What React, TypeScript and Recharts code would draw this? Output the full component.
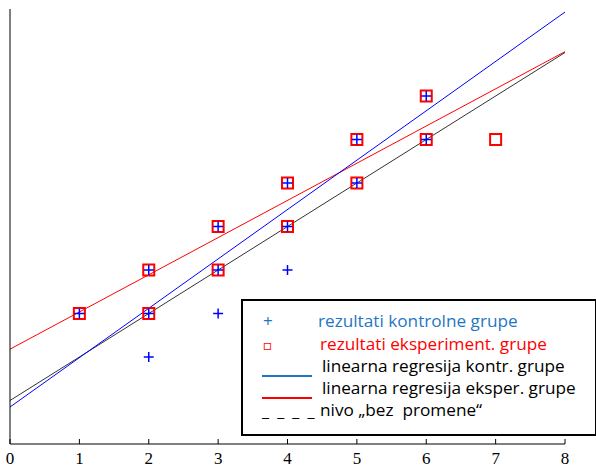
import {
  ComposedChart,
  Scatter,
  Line,
  XAxis,
  YAxis,
} from 'recharts';

// rezultati kontrolne grupe (+)
const controlX = [1, 2, 2, 2, 3, 3, 3, 4, 4, 4, 5, 5, 6, 6];
const controlY = [3, 2, 3, 4, 3, 4, 5, 4, 5, 6, 6, 7, 7, 8];

// rezultati eksperiment. grupe (square)
const expX = [1, 2, 2, 3, 3, 4, 4, 5, 5, 6, 6, 7];
const expY = [3, 3, 4, 4, 5, 5, 6, 6, 7, 7, 8, 7];

// line end points
const lineX = [0, 8];
const controlFit = [0.85, 9.93];
const expFit = [2.18, 9.02];
const noChange = [1, 9];

const xTicks = [0, 1, 2, 3, 4, 5, 6, 7, 8];
const yTicks = [0, 1, 2, 3, 4, 5, 6, 7, 8, 9, 10];

const toPoints = (xs: number[], ys: number[]) => xs.map((x, i) => ({ x, y: ys[i] }));

const controlData = toPoints(controlX, controlY);
const expData = toPoints(expX, expY);
const controlLine = toPoints(lineX, controlFit);
const expLine = toPoints(lineX, expFit);
const noChangeLine = toPoints(lineX, noChange);

const Plus = (props: any) => {
  const { cx, cy } = props;
  return (
    <g>
      <line x1={cx - 5} x2={cx + 5} y1={cy} y2={cy} stroke="#0000ff" strokeWidth={1.5} />
      <line x1={cx} x2={cx} y1={cy - 5} y2={cy + 5} stroke="#0000ff" strokeWidth={1.5} />
    </g>
  );
};

const Square = (props: any) => {
  const { cx, cy } = props;
  return <rect x={cx - 5.5} y={cy - 5.5} width={11} height={11} fill="none" stroke="#ff0000" strokeWidth={2} />;
};

const legendFont = '"Open Sans", Lato, sans-serif';

const rowStyle = (top: number, left: number, color: string) => ({
  position: 'absolute' as const,
  top,
  left,
  color,
  fontSize: 17.2,
  lineHeight: '18px',
  whiteSpace: 'pre' as const,
  fontFamily: legendFont,
});

export default function App() {
  return (
    <div style={{ position: 'absolute', left: 0, top: 0, width: 596, height: 468, background: '#fff' }}>
      <ComposedChart width={596} height={468} margin={{ top: 9, right: 31, left: 0, bottom: 0 }}>
        <XAxis
          dataKey="x"
          type="number"
          domain={[0, 8]}
          ticks={xTicks}
          height={24}
          stroke="#000"
          tickSize={-5}
          tickMargin={13}
          tick={{ fill: '#000', fontSize: 17, fontFamily: '"Liberation Serif", serif' }}
          allowDuplicatedCategory={false}
        />
        <YAxis
          dataKey="y"
          type="number"
          domain={[0, 10]}
          ticks={yTicks}
          width={10}
          stroke="#000"
          tickSize={-5}
          tick={false}
        />
        <Line data={noChangeLine} dataKey="y" stroke="#333" strokeWidth={1} dot={false} isAnimationActive={false} />
        <Line data={expLine} dataKey="y" stroke="#ff0000" strokeWidth={1} dot={false} isAnimationActive={false} />
        <Line data={controlLine} dataKey="y" stroke="#0000ff" strokeWidth={1} dot={false} isAnimationActive={false} />
        <Scatter data={expData} shape={Square} isAnimationActive={false} />
        <Scatter data={controlData} shape={Plus} isAnimationActive={false} />
      </ComposedChart>

      <div
        style={{
          position: 'absolute',
          left: 241,
          top: 299,
          width: 352,
          height: 133,
          border: '2px solid #000',
          background: '#fff',
        }}
      />
      <div style={rowStyle(312, 263, '#1f77c4')}>+</div>
      <div style={rowStyle(312, 318, '#1f77c4')}>rezultati kontrolne grupe</div>
      <div style={{ ...rowStyle(336, 263, '#ff0000'), fontSize: 14 }}>□</div>
      <div style={rowStyle(335, 320, '#ff0000')}>rezultati eksperiment. grupe</div>
      <div style={{ position: 'absolute', left: 262, top: 375, width: 50, height: 2, background: '#1f77c4' }} />
      <div style={rowStyle(357, 322, '#000')}>linearna regresija kontr. grupe</div>
      <div style={{ position: 'absolute', left: 262, top: 397, width: 50, height: 2, background: '#ff0000' }} />
      <div style={rowStyle(379, 322, '#000')}>linearna regresija eksper. grupe</div>
      <div style={{ ...rowStyle(402, 262, '#000'), fontSize: 16, letterSpacing: 2 }}>_ _ _ _</div>
      <div style={rowStyle(401, 320, '#000')}>nivo „bez  promene“</div>
    </div>
  );
}
